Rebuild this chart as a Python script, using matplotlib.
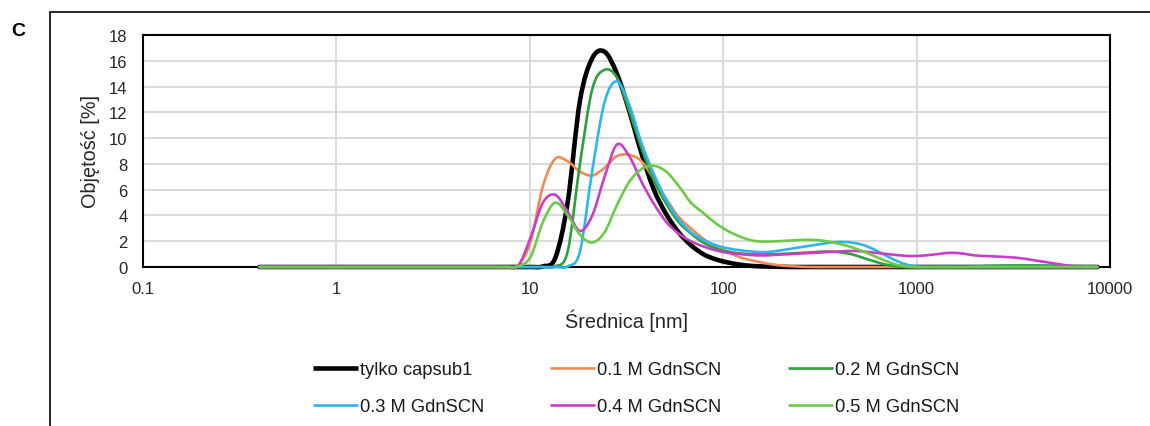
import numpy as np
import matplotlib
matplotlib.use("Agg")
import matplotlib.pyplot as plt
from matplotlib.path import Path
from matplotlib.patches import PathPatch, Rectangle
from matplotlib.lines import Line2D
from matplotlib.ticker import FixedLocator, FixedFormatter, NullLocator

plt.rcParams['font.family'] = ['Liberation Sans', 'DejaVu Sans']

# Size classes [nm]
diameter = [0.4, 0.4632, 0.5365, 0.6213, 0.7195, 0.8332, 0.9649, 1.117, 1.294, 1.499,
            1.736, 2.010, 2.328, 2.696, 3.122, 3.615, 4.187, 4.849, 5.615, 6.503,
            7.531, 8.721, 10.10, 11.70, 13.54, 15.69, 18.17, 21.04, 24.36, 28.21,
            32.67, 37.84, 43.82, 50.75, 58.77, 68.06, 78.82, 91.28, 105.7, 122.4,
            141.8, 164.2, 190.1, 220.2, 255.0, 295.3, 342.0, 396.1, 458.7, 531.2,
            615.1, 712.4, 825.0, 955.4, 1106, 1281, 1484, 1718, 1990, 2305,
            2669, 3091, 3580, 4145, 4801, 5560, 6439, 7456, 8635]

# Volume distributions [%]
vol_capsub1 = [0, 0, 0, 0, 0, 0, 0, 0, 0, 0,
               0, 0, 0, 0, 0, 0, 0, 0, 0, 0,
               0, 0, 0, 0.05, 0.7, 5.0, 12.9, 16.2, 16.7, 15.0,
               12.1, 8.8, 6.0, 4.1, 2.7, 1.7, 1.0, 0.6, 0.35, 0.18,
               0.08, 0.04, 0.02, 0, 0, 0, 0, 0, 0, 0,
               0, 0, 0, 0, 0, 0, 0, 0, 0, 0,
               0, 0, 0, 0, 0, 0, 0, 0, 0]
vol_01M = [0, 0, 0, 0, 0, 0, 0, 0, 0, 0,
           0, 0, 0, 0, 0, 0, 0, 0, 0, 0,
           0, 0.15, 2.0, 6.3, 8.4, 8.2, 7.4, 7.1, 7.7, 8.6,
           8.7, 8.2, 6.8, 5.3, 3.9, 3.0, 2.2, 1.6, 1.15, 0.75,
           0.5, 0.3, 0.15, 0.07, 0.02, 0, 0, 0, 0, 0,
           0, 0, 0, 0, 0, 0, 0, 0, 0, 0,
           0, 0, 0, 0, 0, 0, 0, 0, 0]
vol_02M = [0, 0, 0, 0, 0, 0, 0, 0, 0, 0,
           0, 0, 0, 0, 0, 0, 0, 0, 0, 0,
           0, 0, 0, 0, 0.05, 1.2, 8.0, 13.8, 15.3, 14.7,
           12.1, 9.2, 6.7, 4.9, 3.5, 2.6, 1.9, 1.45, 1.2, 1.05,
           1.0, 0.98, 1.0, 1.05, 1.1, 1.15, 1.2, 1.15, 1.0, 0.7,
           0.4, 0.15, 0.03, 0, 0, 0, 0, 0, 0.03, 0.08,
           0.1, 0.12, 0.12, 0.12, 0.1, 0.1, 0.08, 0.05, 0.02]
vol_03M = [0, 0, 0, 0, 0, 0, 0, 0, 0, 0,
           0, 0, 0, 0, 0, 0, 0, 0, 0, 0,
           0, 0, 0, 0, 0, 0.05, 1.2, 7.5, 12.8, 14.4,
           12.6, 9.6, 7.2, 5.2, 3.7, 2.7, 2.1, 1.7, 1.45, 1.3,
           1.2, 1.15, 1.25, 1.4, 1.55, 1.7, 1.85, 1.95, 1.9, 1.7,
           1.3, 0.8, 0.35, 0.08, 0, 0, 0, 0, 0, 0,
           0, 0, 0, 0, 0, 0, 0, 0, 0]
vol_04M = [0, 0, 0, 0, 0, 0, 0, 0, 0, 0,
           0, 0, 0, 0, 0, 0, 0, 0, 0, 0,
           0, 0.1, 2.3, 5.0, 5.6, 4.3, 2.8, 4.0, 7.0, 9.5,
           8.6, 6.6, 4.9, 3.5, 2.6, 2.0, 1.6, 1.3, 1.1, 1.0,
           0.92, 0.9, 0.95, 1.0, 1.05, 1.1, 1.15, 1.2, 1.25, 1.2,
           1.1, 1.0, 0.9, 0.85, 0.9, 1.0, 1.1, 1.05, 0.9, 0.85,
           0.8, 0.75, 0.65, 0.5, 0.35, 0.2, 0.05, 0, 0]
vol_05M = [0, 0, 0, 0, 0, 0, 0, 0, 0, 0,
           0, 0, 0, 0, 0, 0, 0, 0, 0, 0,
           0, 0.05, 0.8, 3.5, 5.0, 4.0, 2.5, 1.9, 2.7, 4.8,
           6.6, 7.6, 7.85, 7.4, 6.3, 5.0, 4.2, 3.4, 2.8, 2.35,
           2.05, 1.97, 2.0, 2.05, 2.1, 2.1, 2.0, 1.8, 1.55, 1.2,
           0.8, 0.4, 0.1, 0, 0, 0, 0, 0, 0, 0,
           0, 0, 0, 0, 0, 0, 0, 0, 0]

series_labels = ['tylko capsub1', '0.1 M GdnSCN', '0.2 M GdnSCN',
                 '0.3 M GdnSCN', '0.4 M GdnSCN', '0.5 M GdnSCN']
series_values = [vol_capsub1, vol_01M, vol_02M, vol_03M, vol_04M, vol_05M]
series_colors = ['#000000', '#F08A55', '#2EA03A', '#2DB6EE', '#C83EC4', '#6CCB46']
series_widths = [3.3, 1.9, 1.9, 1.9, 1.9, 1.9]

x_ticks = [0.1, 1, 10, 100, 1000, 10000]
x_tick_labels = ['0.1', '1', '10', '100', '1000', '10000']
y_ticks = [0, 2, 4, 6, 8, 10, 12, 14, 16, 18]


def smoothed_path(xs, ys):
    """Smoothed (Catmull-Rom style) Bezier path through the points, built in log-x space."""
    lx = np.log10(np.asarray(xs, dtype=float))
    y = np.asarray(ys, dtype=float)
    pts = np.column_stack([lx, y])
    n = len(pts)
    verts = [pts[0]]
    codes = [Path.MOVETO]
    for i in range(n - 1):
        p0 = pts[i - 1] if i > 0 else pts[i]
        p1 = pts[i]
        p2 = pts[i + 1]
        p3 = pts[i + 2] if i + 2 < n else pts[i + 1]
        c1 = p1 + (p2 - p0) / 6.0
        c2 = p2 - (p3 - p1) / 6.0
        verts += [c1, c2, p2]
        codes += [Path.CURVE4] * 3
    verts = np.array(verts)
    verts[:, 0] = 10.0 ** verts[:, 0]
    return Path(verts, codes)


W, H = 1150, 427
fig = plt.figure(figsize=(W / 100, H / 100), dpi=100)

ax_left, ax_right, ax_top, ax_bottom = 143, 1110, 36, 268
ax = fig.add_axes([ax_left / W, 1 - ax_bottom / H,
                   (ax_right - ax_left) / W, (ax_bottom - ax_top) / H])

ax.set_xscale('log')
ax.set_xlim(0.1, 10000)
ax.set_ylim(0, 18)

ax.xaxis.set_major_locator(FixedLocator(x_ticks))
ax.xaxis.set_major_formatter(FixedFormatter(x_tick_labels))
ax.xaxis.set_minor_locator(NullLocator())
ax.set_yticks(y_ticks)

tick_color = '#262626'
ax.tick_params(axis='both', length=0, labelsize=12, colors=tick_color)
ax.tick_params(axis='x', pad=10)
ax.tick_params(axis='y', pad=11)

ax.grid(True, color='#D9D9D9', linewidth=1.4)
ax.set_axisbelow(True)
for sp in ax.spines.values():
    sp.set_color('black')
    sp.set_linewidth(1.5)
    sp.set_zorder(2.5)

handles = []
for vals, lab, col, lw in zip(series_values, series_labels, series_colors, series_widths):
    patch = PathPatch(smoothed_path(diameter, vals), fill=False, edgecolor=col,
                      linewidth=lw, capstyle='round', joinstyle='round',
                      zorder=3, clip_on=False)
    ax.add_patch(patch)
    handles.append(Line2D([], [], color=col, linewidth=lw, solid_capstyle='butt'))

ax.set_xlabel('Średnica [nm]', fontsize=14.3, color=tick_color)
ax.xaxis.label.set_va('center')
ax.xaxis.set_label_coords(0.5, (ax_bottom - 321) / (ax_bottom - ax_top))
ax.set_ylabel('Objętość [%]', fontsize=14.3, color=tick_color)
ax.yaxis.label.set_va('center')
ax.yaxis.set_label_coords((91 - ax_left) / (ax_right - ax_left), 0.5)

# Legend entries fill row by row: reorder for matplotlib's column-major fill
order = [0, 3, 1, 4, 2, 5]
fig.legend([handles[i] for i in order], [series_labels[i] for i in order],
           ncol=3, loc='upper left', bbox_to_anchor=(313 / W, 1 - 362 / H),
           frameon=False, fontsize=13.2, handlelength=2.45, handletextpad=0.12,
           columnspacing=3.6, labelspacing=1.1, borderpad=0, borderaxespad=0,
           labelcolor='#1a1a1a')

# Outer panel frame and panel letter
fig.add_artist(Rectangle((50 / W, -0.2), 1.2, 1.2 - 13 / H, transform=fig.transFigure,
                         fill=False, edgecolor='black', linewidth=1.2))
fig.text(18.5 / W, 1 - 31 / H, 'C', fontsize=14, fontweight='bold',
         ha='center', va='center')

fig.savefig('out.png', dpi=100)
